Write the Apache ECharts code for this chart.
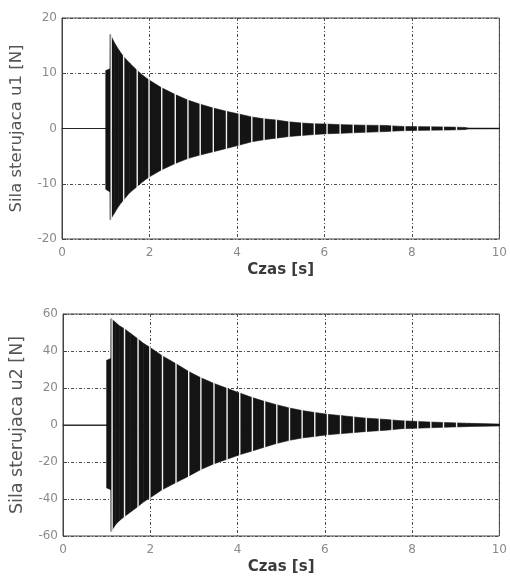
<!DOCTYPE html>
<html>
<head>
<meta charset="utf-8">
<script src="https://cdn.jsdelivr.net/npm/echarts@6/dist/echarts.min.js"></script>
<style>
  html, body { margin: 0; padding: 0; background: #fff; }
  #chart { width: 510px; height: 580px; }
</style>
</head>
<body>
<div id="chart"></div>
<script>
// Control forces u1 and u2 of the two actuators: envelope of the fast oscillation (N)
const envTime = [1.00, 1.10, 1.105, 1.20, 1.30, 1.41, 1.55, 1.72, 1.85, 1.99,
                 2.27, 2.60, 2.89, 3.16, 3.46, 3.76, 4.06, 4.34, 4.61, 4.89,
                 5.19, 5.48, 5.76, 6.06, 6.40, 6.90, 7.40, 7.75, 8.40, 8.90,
                 9.20, 9.30, 10.0];
const u1Upper = [10.5, 10.8, 17.0, 15.5, 14.2, 13.0, 11.8, 10.5, 9.6, 8.8,
                 7.4, 6.1, 5.1, 4.4, 3.7, 3.1, 2.6, 2.1, 1.75, 1.55,
                 1.2, 1.0, 0.85, 0.8, 0.7, 0.6, 0.55, 0.38, 0.3, 0.25,
                 0.2, 0.08, 0.06];
const u1Lower = [-11.0, -11.5, -16.5, -15.3, -14.0, -12.9, -11.6, -10.5, -9.6, -8.8,
                 -7.5, -6.3, -5.4, -4.8, -4.2, -3.6, -3.0, -2.4, -2.05, -1.75,
                 -1.45, -1.25, -1.1, -0.95, -0.85, -0.7, -0.55, -0.4, -0.3, -0.25,
                 -0.2, -0.08, -0.06];
const u2Upper = [35, 36, 57.5, 55.5, 53.5, 52, 49.5, 46.5, 44, 42,
                 37.5, 33, 28.8, 25.5, 22.5, 19.8, 17.2, 14.8, 12.8, 11,
                 9.2, 7.8, 6.8, 5.8, 5.0, 3.8, 3.0, 2.3, 1.6, 1.2,
                 1.0, 0.9, 0.5];
const u2Lower = [-34, -35, -57.5, -54, -51.5, -49.5, -47, -44, -41.5, -39.5,
                 -35, -31, -27.5, -24, -21, -18.5, -16, -14, -12, -10,
                 -8.3, -7, -6.2, -5.3, -4.6, -3.6, -2.8, -2.0, -1.5, -1.1,
                 -0.9, -0.8, -0.5];
// Beat minima of the oscillation (thin light stripes through the band), s
const beatTimes = [1.125, 1.41, 1.72, 1.99, 2.28, 2.59, 2.88, 3.16, 3.46, 3.76,
                   4.05, 4.34, 4.62, 4.90, 5.19, 5.48, 5.77, 6.06, 6.36, 6.66,
                   6.95, 7.25, 7.54, 7.84, 8.13, 8.43, 8.72, 9.02];
// Signal at rest before the excitation starts and along the time axis
const restLine = [[0, 0], [10, 0]];

const xTicks = { min: 0, max: 10, interval: 2 };
const y1Ticks = { min: -20, max: 20, interval: 10 };
const y2Ticks = { min: -60, max: 60, interval: 20 };

const FONT = 'DejaVu Sans, Liberation Sans, sans-serif';

function segments(up, lo) {
  const out = [];
  for (let i = 0; i < envTime.length - 1; i++) {
    out.push([envTime[i], up[i], lo[i], envTime[i + 1], up[i + 1], lo[i + 1]]);
  }
  return out;
}

function envAt(t, arr) {
  for (let i = 0; i < envTime.length - 1; i++) {
    if (t >= envTime[i] && t <= envTime[i + 1]) {
      const f = (t - envTime[i]) / (envTime[i + 1] - envTime[i]);
      return arr[i] + f * (arr[i + 1] - arr[i]);
    }
  }
  return 0;
}

function bandSeries(idx, up, lo) {
  return {
    type: 'custom',
    xAxisIndex: idx, yAxisIndex: idx,
    data: segments(up, lo),
    encode: { x: [0, 3], y: [1, 2, 4, 5] },
    renderItem: function (params, api) {
      const a = api.coord([api.value(0), api.value(1)]);
      const b = api.coord([api.value(3), api.value(4)]);
      const c = api.coord([api.value(3), api.value(5)]);
      const d = api.coord([api.value(0), api.value(2)]);
      return {
        type: 'polygon',
        shape: { points: [a, b, c, d] },
        style: { fill: '#141414', stroke: '#141414', lineWidth: 0.6 }
      };
    },
    z: 3
  };
}

function stripeSeries(idx, up, lo) {
  return {
    type: 'custom',
    xAxisIndex: idx, yAxisIndex: idx,
    data: beatTimes.map(t => [t]),
    encode: { x: 0 },
    renderItem: function (params, api) {
      const t = api.value(0);
      const top = api.coord([t, envAt(t, up)]);
      const bot = api.coord([t, envAt(t, lo)]);
      return {
        type: 'rect',
        shape: { x: top[0] - 0.7, y: top[1] - 2, width: 1.4, height: bot[1] - top[1] + 4 },
        style: { fill: '#f2f2f2' }
      };
    },
    z: 4
  };
}

function restSeries(idx) {
  return {
    type: 'line', xAxisIndex: idx, yAxisIndex: idx,
    data: restLine, symbol: 'none',
    lineStyle: { color: '#222', width: 1 }, z: 2, silent: true
  };
}

const gridLine = { show: true, lineStyle: { color: '#4a4a4a', type: [3, 2, 1, 2], width: 1 } };
const tickLabel = { color: '#8a8a8a', fontFamily: FONT, fontSize: 12 };

function xAxis(idx) {
  return {
    type: 'value', gridIndex: idx, min: xTicks.min, max: xTicks.max, interval: xTicks.interval,
    name: 'Czas [s]', nameLocation: 'middle', nameGap: 24,
    nameTextStyle: { color: '#3a3a3a', fontFamily: FONT, fontSize: 15, fontWeight: 'bold' },
    axisLine: { show: true, lineStyle: { color: '#444', width: 1 } },
    axisTick: { show: true, inside: true, length: 4, lineStyle: { color: '#444' } },
    axisLabel: Object.assign({ margin: 8 }, tickLabel),
    splitLine: gridLine
  };
}

function yAxis(idx, ticks, name, size) {
  return {
    type: 'value', gridIndex: idx, min: ticks.min, max: ticks.max, interval: ticks.interval,
    name: name, nameLocation: 'middle', nameGap: 37, nameRotate: 90,
    nameTextStyle: { color: '#555', fontFamily: FONT, fontSize: size },
    axisLine: { show: true, lineStyle: { color: '#444', width: 1 } },
    axisTick: { show: true, inside: true, length: 4, lineStyle: { color: '#444' } },
    axisLabel: Object.assign({ margin: 5 }, tickLabel),
    splitLine: gridLine
  };
}

const chart = echarts.init(document.getElementById('chart'), null, { renderer: 'canvas' });
chart.setOption({
  backgroundColor: '#ffffff',
  animation: false,
  grid: [
    { left: 61, top: 18, width: 441, height: 221, show: true, borderColor: '#444', borderWidth: 1, backgroundColor: 'transparent' },
    { left: 61, top: 314, width: 441, height: 222, show: true, borderColor: '#444', borderWidth: 1, backgroundColor: 'transparent' }
  ],
  xAxis: [xAxis(0), xAxis(1)],
  yAxis: [
    yAxis(0, y1Ticks, 'Sila sterujaca u1 [N]', 16.5),
    yAxis(1, y2Ticks, 'Sila sterujaca u2 [N]', 17.5)
  ],
  series: [
    restSeries(0), bandSeries(0, u1Upper, u1Lower), stripeSeries(0, u1Upper, u1Lower),
    restSeries(1), bandSeries(1, u2Upper, u2Lower), stripeSeries(1, u2Upper, u2Lower)
  ]
});
</script>
</body>
</html>
